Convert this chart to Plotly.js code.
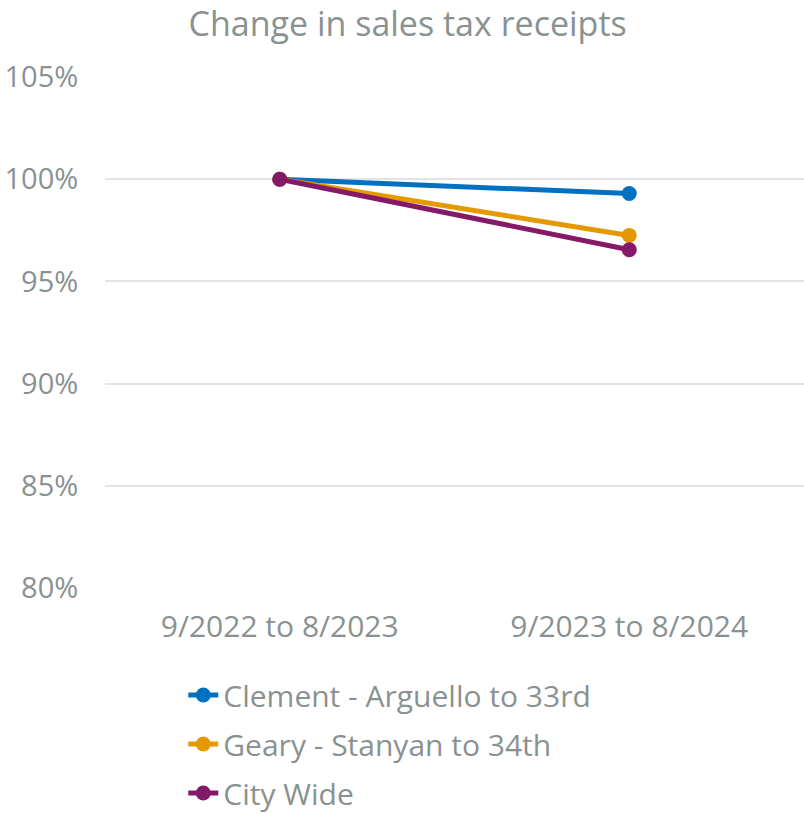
<!DOCTYPE html>
<html><head><meta charset="utf-8">
<script src="https://cdn.plot.ly/plotly-3.0.1.min.js"></script>
<style>html,body{margin:0;padding:0;background:#fff}#chart{width:804px;height:813px}</style>
</head><body><div id="chart"></div>
<script>
const categories = ["9/2022 to 8/2023", "9/2023 to 8/2024"];
const seriesNames = ["Clement - Arguello to 33rd", "Geary - Stanyan to 34th", "City Wide"];
const clement = [100, 99.3];
const geary = [100, 97.25];
const cityWide = [100, 96.55];
const yTicks = [80, 85, 90, 95, 100, 105];
const colors = ["#0070c0", "#e69800", "#841a67"];

const values = [clement, geary, cityWide];
const traces = values.map((v, i) => ({
  x: categories, y: v, type: 'scatter', mode: 'lines+markers', name: seriesNames[i],
  legendgroup: 'g' + i,
  line: {color: colors[i], width: 5}, marker: {color: colors[i], size: 15},
  hoverinfo: 'skip'
}));
const grey = '#8a9191';
const font = 'Open Sans, Noto Sans, sans-serif';
Plotly.newPlot('chart', traces, {
  width: 804, height: 813,
  margin: {l: 105, r: 0, t: 77, b: 225},
  paper_bgcolor: '#fff', plot_bgcolor: '#fff',
  font: {family: font, color: grey},
  title: {text: 'Change in sales tax receipts', font: {size: 34, color: grey, family: font}, x: 0.507, xref: 'container', y: 0.9705, yref: 'container', yanchor: 'middle'},
  xaxis: {type: 'category', tickfont: {size: 30, color: grey}, showgrid: false, zeroline: false, showline: false,
    ticks: 'outside', ticklen: 12, tickcolor: 'rgba(0,0,0,0)', range: [-0.5, 1.5], fixedrange: true},
  yaxis: {range: [80, 105], tickvals: yTicks, ticktext: yTicks.map(t => t + '%'), tickfont: {size: 29, color: grey},
    showgrid: true, gridcolor: '#e2e4e4', gridwidth: 2, zeroline: false, showline: false,
    ticks: 'outside', ticklen: 20, tickcolor: 'rgba(0,0,0,0)', fixedrange: true},
  showlegend: true,
  legend: {orientation: 'v', x: 0.112, xanchor: 'left', xref: 'paper', y: 0.1771, yref: 'container', yanchor: 'top', font: {size: 30, color: grey}, tracegroupgap: 7, itemwidth: 30, traceorder: 'grouped'}
}, {displayModeBar: false, staticPlot: true});
</script></body></html>
